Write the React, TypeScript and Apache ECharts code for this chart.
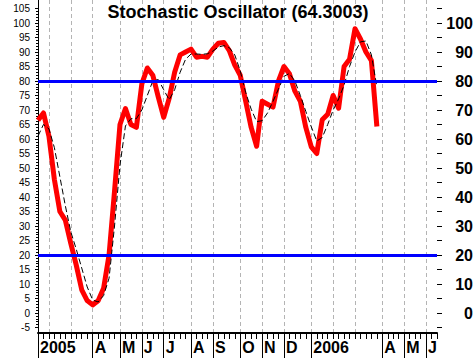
import React, { useEffect, useRef } from 'react';
import * as echarts from 'echarts';

// Weekly sessions (Fridays) on the category axis, data ends 2006-03-31, axis runs on to mid-June 2006
const weeks = [
  '2005-01-21', '2005-01-28',
  '2005-02-04', '2005-02-11', '2005-02-18', '2005-02-25',
  '2005-03-04', '2005-03-11', '2005-03-18', '2005-03-25',
  '2005-04-01', '2005-04-08', '2005-04-15', '2005-04-22', '2005-04-29',
  '2005-05-06', '2005-05-13', '2005-05-20', '2005-05-27',
  '2005-06-03', '2005-06-10', '2005-06-17', '2005-06-24',
  '2005-07-01', '2005-07-08', '2005-07-15', '2005-07-22', '2005-07-29',
  '2005-08-05', '2005-08-12', '2005-08-19', '2005-08-26',
  '2005-09-02', '2005-09-09', '2005-09-16', '2005-09-23', '2005-09-30',
  '2005-10-07', '2005-10-14', '2005-10-21', '2005-10-28',
  '2005-11-04', '2005-11-11', '2005-11-18', '2005-11-25',
  '2005-12-02', '2005-12-09', '2005-12-16', '2005-12-23', '2005-12-30',
  '2006-01-06', '2006-01-13', '2006-01-20', '2006-01-27',
  '2006-02-03', '2006-02-10', '2006-02-17', '2006-02-24',
  '2006-03-03', '2006-03-10', '2006-03-17', '2006-03-24', '2006-03-31',
  '2006-04-07', '2006-04-14', '2006-04-21', '2006-04-28',
  '2006-05-05', '2006-05-12', '2006-05-19', '2006-05-26',
  '2006-06-02', '2006-06-09', '2006-06-16',
];

// %K (thick red)
const stochK = [
  66.5, 69, 61, 46, 35, 32, 24, 16.5, 8, 4.3,
  2.8, 4.2, 8.5, 20, 42, 65, 70.5, 65, 64, 79,
  84.5, 82, 74.5, 67.5, 74, 83, 89, 90, 91, 88.2,
  88.5, 88.2, 91, 93, 93.3, 90.5, 85.5, 82, 73, 64,
  57.5, 73, 72, 71, 80, 85, 82.5, 76.5, 73, 64,
  57.3, 55, 66.6, 68.5, 75, 70.6, 85, 87.5, 98, 94.5,
  90, 87, 64.3,
];

// %D (thin dashed black)
const stochD = [
  61, 65, 63.5, 57, 47, 37, 28, 22, 15.5, 9,
  4.5, 3.8, 6, 12, 30, 51, 64.5, 67, 67, 70,
  75, 80, 80.5, 77, 73.5, 77, 83, 87.5, 89.3, 89.3,
  89.2, 89.4, 90.3, 91.7, 92.2, 91.5, 89, 83.5, 76, 70.3,
  66, 66.3, 69, 73, 77.3, 81.6, 82.6, 80, 75, 69.5,
  64.2, 59.3, 60.5, 65, 70, 73.8, 78.6, 85, 90, 93.5,
  93.8, 89, 78,
];

const levels = [20, 80];
const monthLetters = ['', 'F', 'M', 'A', 'M', 'J', 'J', 'A', 'S', 'O', 'N', 'D'];
const unlabeledMonths = [1, 2];
const titleText = 'Stochastic Oscillator (64.3003)';

const FONT = '"Liberation Sans", Arial, Helvetica, sans-serif';

const monthOf = (i: number) => parseInt(weeks[i].slice(5, 7), 10) - 1;
const isMonthStart = (i: number) => i === 0 || monthOf(i) !== monthOf(i - 1);
const isLabeled = (i: number) => isMonthStart(i) && unlabeledMonths.indexOf(monthOf(i)) < 0;

export default function App() {
  const ref = useRef<HTMLDivElement>(null);
  useEffect(() => {
    if (!ref.current) return;
    const chart = echarts.init(ref.current, undefined, { renderer: 'svg' });
    const gridL = 38;
    const gridR = 39;
    chart.setOption({
      animation: false,
      backgroundColor: '#ffffff',
      title: {
        text: titleText,
        left: 'center',
        top: 3,
        padding: 0,
        textStyle: { fontFamily: FONT, fontSize: 18, fontWeight: 'bold', color: '#000' },
      },
      grid: [
        { left: gridL, right: gridR, top: 8.5, bottom: 31.5 },
        { left: gridL, right: gridR, top: 0, bottom: 26 },
      ],
      xAxis: [
        {
          type: 'category',
          gridIndex: 0,
          data: weeks,
          boundaryGap: false,
          show: false,
        },
        {
          type: 'category',
          gridIndex: 1,
          position: 'bottom',
          data: weeks,
          boundaryGap: false,
          axisLine: { show: true, lineStyle: { color: '#000', width: 2 } },
          axisTick: {
            show: true,
            interval: (i: number) => isLabeled(i),
            length: 25,
            lineStyle: { color: '#000', width: 1 },
          },
          axisLabel: {
            show: true,
            interval: (i: number) => isLabeled(i),
            formatter: (v: string, i: number) => {
              const m = monthOf(i);
              return m === 0 ? v.slice(0, 4) : monthLetters[m];
            },
            align: 'left',
            padding: [0, 0, 0, 2],
            margin: 6,
            fontFamily: FONT,
            fontSize: 16,
            fontWeight: 'bold',
            color: '#000',
          },
          splitLine: {
            show: true,
            interval: (i: number) => isMonthStart(i),
            lineStyle: { color: '#b4b4b4', width: 1, type: [4, 3] },
          },
        },
        {
          type: 'category',
          gridIndex: 1,
          position: 'bottom',
          data: weeks,
          boundaryGap: false,
          axisLine: { show: false },
          axisTick: { show: true, interval: 0, length: 6, lineStyle: { color: '#000', width: 1 } },
          axisLabel: { show: false },
          splitLine: { show: false },
        },
      ],
      yAxis: [
        {
          type: 'value',
          gridIndex: 0,
          position: 'left',
          min: -5,
          max: 105,
          interval: 5,
          axisLine: { show: false },
          axisTick: { show: true, length: 3, lineStyle: { color: '#000' } },
          minorTick: { show: true, splitNumber: 5, length: 2, lineStyle: { color: '#000' } },
          axisLabel: { fontFamily: FONT, fontSize: 10, color: '#000', margin: 8 },
          splitLine: { show: false },
        },
        {
          type: 'value',
          gridIndex: 0,
          position: 'right',
          min: -5,
          max: 105,
          interval: 5,
          axisLine: { show: false },
          axisTick: { show: true, length: 5, lineStyle: { color: '#000' } },
          axisLabel: {
            formatter: (v: number) => (v % 10 === 0 ? String(v) : ''),
            align: 'right',
            margin: 36,
            fontFamily: FONT,
            fontSize: 16,
            fontWeight: 'bold',
            color: '#000',
          },
          splitLine: { show: false },
        },
        {
          type: 'value',
          gridIndex: 1,
          min: 0,
          max: 1,
          axisLine: { show: true, lineStyle: { color: '#000', width: 1 } },
          axisTick: { show: false },
          axisLabel: { show: false },
          splitLine: { show: false },
        },
      ],
      series: [
        {
          type: 'line',
          xAxisIndex: 0,
          yAxisIndex: 0,
          data: [],
          z: 1,
          markLine: {
            silent: true,
            symbol: ['none', 'none'],
            label: { show: false },
            lineStyle: { color: '#0000ff', width: 3, type: 'solid' },
            data: levels.map((v) => ({ yAxis: v })),
          },
        },
        {
          type: 'line',
          name: '%K',
          xAxisIndex: 0,
          yAxisIndex: 0,
          data: stochK,
          showSymbol: false,
          z: 3,
          lineStyle: { color: '#ff0000', width: 5, join: 'round' },
        },
        {
          type: 'line',
          name: '%D',
          xAxisIndex: 0,
          yAxisIndex: 0,
          data: stochD,
          showSymbol: false,
          z: 4,
          lineStyle: { color: '#000000', width: 1, type: [6, 3] },
        },
      ],
    });
    return () => chart.dispose();
  }, []);
  return (
    <div
      ref={ref}
      style={{ position: 'absolute', left: 0, top: 0, width: 476, height: 359, background: '#fff' }}
    />
  );
}
